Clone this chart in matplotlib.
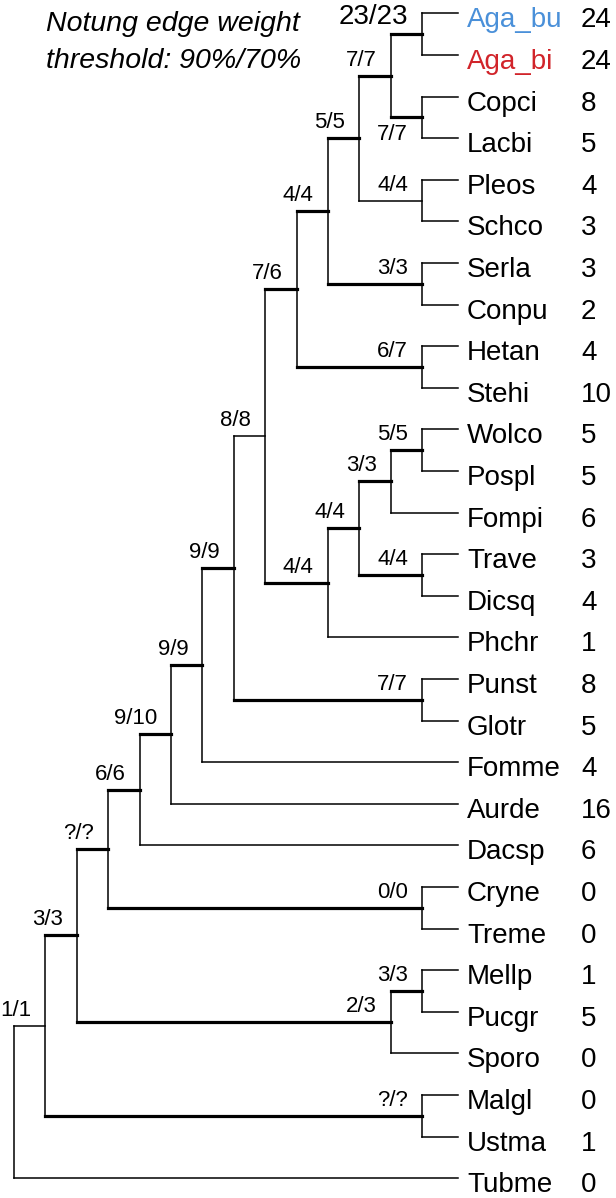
import matplotlib
matplotlib.use("Agg")
import matplotlib.pyplot as plt

plt.rcParams['font.family'] = ['Liberation Sans', 'DejaVu Sans']

# leaves (top to bottom) and their gene counts
leaves = ["Aga_bu", "Aga_bi", "Copci", "Lacbi", "Pleos", "Schco", "Serla", "Conpu",
          "Hetan", "Stehi", "Wolco", "Pospl", "Fompi", "Trave", "Dicsq", "Phchr",
          "Punst", "Glotr", "Fomme", "Aurde", "Dacsp", "Cryne", "Treme", "Mellp",
          "Pucgr", "Sporo", "Malgl", "Ustma", "Tubme"]
counts = [24, 24, 8, 5, 4, 3, 3, 2, 4, 10, 5, 5, 6, 3, 4, 1, 8, 5, 4, 16, 6,
          0, 0, 1, 5, 0, 0, 1, 0]

# internal nodes: name, children, edge label, supported at 90% (thick edge)
node_names = ["Aga", "CopLac", "Agaricales", "PleSch", "Agaricoid", "SerCon",
              "Agaricom", "HetSte", "Nh", "WolPos", "Antrodia", "TraDic", "Core",
              "Polyporales", "Ng", "PunGlo", "Nf", "Ne", "Nd", "Nc", "Tremello",
              "Nb", "MelPuc", "Puccinio", "Na", "Ustilagino", "Basidio", "root"]
node_children = [("Aga_bu", "Aga_bi"), ("Copci", "Lacbi"), ("Aga", "CopLac"),
                 ("Pleos", "Schco"), ("Agaricales", "PleSch"), ("Serla", "Conpu"),
                 ("Agaricoid", "SerCon"), ("Hetan", "Stehi"), ("Agaricom", "HetSte"),
                 ("Wolco", "Pospl"), ("WolPos", "Fompi"), ("Trave", "Dicsq"),
                 ("Antrodia", "TraDic"), ("Core", "Phchr"), ("Nh", "Polyporales"),
                 ("Punst", "Glotr"), ("Ng", "PunGlo"), ("Nf", "Fomme"), ("Ne", "Aurde"),
                 ("Nd", "Dacsp"), ("Cryne", "Treme"), ("Nc", "Tremello"),
                 ("Mellp", "Pucgr"), ("MelPuc", "Sporo"), ("Nb", "Puccinio"),
                 ("Malgl", "Ustma"), ("Na", "Ustilagino"), ("Basidio", "Tubme")]
edge_labels = ["23/23", "7/7", "7/7", "4/4", "5/5", "3/3", "4/4", "6/7", "7/6",
               "5/5", "3/3", "4/4", "4/4", "4/4", "8/8", "7/7", "9/9", "9/9", "9/10",
               "6/6", "0/0", "?/?", "3/3", "2/3", "3/3", "?/?", "1/1", ""]
strong = [True, True, True, False, True, True, True, True, True, True, True, True,
          True, True, False, True, True, True, True, True, True, True, True, True,
          True, True, False, False]

children = dict(zip(node_names, node_children))
labels = dict(zip(node_names, edge_labels))
thick = dict(zip(node_names, strong))

# layout: y = leaf order / mean of children, x = 14 - height (cladogram)
ypos = {name: i for i, name in enumerate(leaves)}
height = {name: 0 for name in leaves}
for name in node_names:
    a, b = children[name]
    ypos[name] = (ypos[a] + ypos[b]) / 2
    height[name] = 1 + max(height[a], height[b])
xpos = {name: 14 - height[name] for name in node_names}
for name in leaves:
    xpos[name] = 14.13

fig = plt.figure(figsize=(6.16, 11.98), dpi=100)
ax = fig.add_axes([0, 0, 1, 1])
ax.set_xlim(-14 / 31.4, (616 - 14) / 31.4)
ax.set_ylim((1198 - 13.3) / 41.6, -13.3 / 41.6)
ax.axis('off')

thin_lw, thick_lw = 1.1, 2.3
for name in node_names:
    px, py = xpos[name], ypos[name]
    a, b = children[name]
    ax.plot([px, px], [ypos[a], ypos[b]], color='black', lw=thin_lw,
            solid_capstyle='projecting')
    for c in (a, b):
        lw = thick_lw if thick.get(c, False) else thin_lw
        ax.plot([px, xpos[c]], [ypos[c], ypos[c]], color='black', lw=lw,
                solid_capstyle='projecting')
        lab = labels.get(c, "")
        if lab:
            size = 20 if c == "Aga" else 16
            if c == "CopLac":
                ax.text(xpos[c] - 0.45, ypos[c] + 0.55, lab, ha='right',
                        va='baseline', fontsize=size)
            else:
                ax.text(xpos[c] - 0.45, ypos[c] - 0.24, lab, ha='right',
                        va='baseline', fontsize=size)

leaf_colors = {"Aga_bu": "#4a90d9", "Aga_bi": "#d1242a"}
for i, name in enumerate(leaves):
    ax.text(14.43, i + 0.34, name, ha='left', va='baseline', fontsize=20,
            color=leaf_colors.get(name, 'black'))
    ax.text(18.06, i + 0.34, str(counts[i]), ha='left', va='baseline', fontsize=20)

ax.text(1.02, 0.425, "Notung edge weight", style='italic', fontsize=20.5,
        ha='left', va='baseline')
ax.text(1.02, 1.315, "threshold: 90%/70%", style='italic', fontsize=20.5,
        ha='left', va='baseline')

fig.savefig("out.png", dpi=100)
